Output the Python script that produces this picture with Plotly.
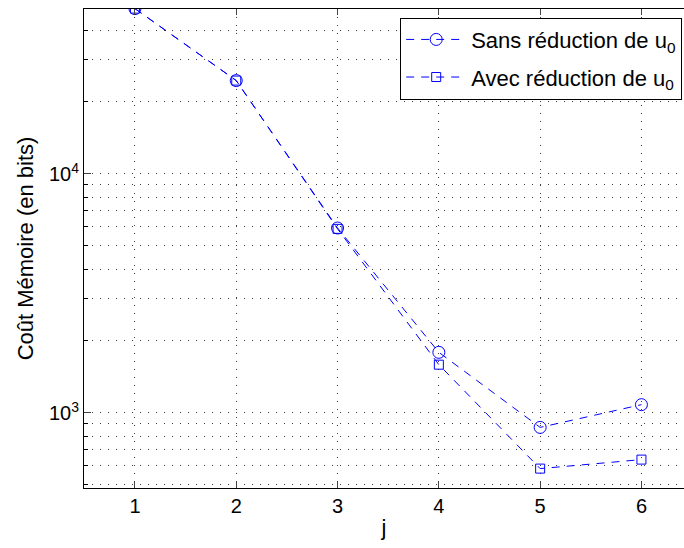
import plotly.graph_objects as go

# Data
j = [1, 2, 3, 4, 5, 6]
sans_reduction = [49152, 24576, 5940, 1793, 870, 1083]
avec_reduction = [49152, 24576, 5890, 1592, 585, 638]

names = ["Sans réduction de u<sub>0</sub>", "Avec réduction de u<sub>0</sub>"]
symbols = ["circle-open", "square-open"]
sizes = [12, 9]

BLUE = "rgb(0,0,255)"
GRID = "rgba(40,40,40,0.9)"
FONT = "Liberation Sans, Arial, Helvetica, sans-serif"

fig = go.Figure()
for k, (ys, name, sym, sz) in enumerate(zip([sans_reduction, avec_reduction], names, symbols, sizes)):
    fig.add_trace(go.Scatter(
        x=j, y=ys, name=name, mode="lines+markers", legendgroup="g%d" % k,
        line=dict(color=BLUE, width=1, dash="8px,7px"),
        marker=dict(symbol=sym, size=sz, color=BLUE, line=dict(color=BLUE, width=1)),
    ))

# minor grid positions (2..9 x decade)
minor_vals = [m * 10 ** e for e in (2, 3, 4) for m in range(2, 10)]

fig.update_xaxes(
    range=[0.497, 6.42], tickvals=j, ticks="inside", ticklen=6,
    showline=True, linecolor="black", linewidth=1, mirror="ticks",
    showgrid=True, gridcolor=GRID, griddash="1px,7px", gridwidth=1,
    zeroline=False,
    title=dict(text="j", standoff=3, font=dict(family=FONT, size=22, color="black")),
    tickfont=dict(size=20, color="black"),
)
fig.update_yaxes(
    type="log", range=[2.686, 4.690],
    tickvals=[1000, 10000], ticktext=["10<sup>3</sup>", "10<sup>4</sup>"],
    ticks="inside", ticklen=7,
    showline=True, linecolor="black", linewidth=1, mirror=False,
    showgrid=True, gridcolor=GRID, griddash="1px,7px", gridwidth=1,
    minor=dict(tickmode="array", tickvals=minor_vals, ticks="inside", ticklen=4,
               tickcolor="black", showgrid=True, gridcolor=GRID,
               griddash="1px,7px", gridwidth=1),
    zeroline=False,
    title=dict(text="Coût Mémoire (en bits)", standoff=9,
               font=dict(family=FONT, size=22, color="black")),
    tickfont=dict(size=20, color="black"),
)

fig.update_layout(
    width=684, height=548,
    margin=dict(l=84, r=0, t=9, b=60, autoexpand=False),
    paper_bgcolor="white", plot_bgcolor="white",
    font=dict(family=FONT, size=20, color="black"),
    showlegend=True,
    legend=dict(
        x=0.997, y=0.982, xanchor="right", yanchor="top",
        bgcolor="white", bordercolor="black", borderwidth=1,
        font=dict(size=22, color="black"), itemwidth=60,
        tracegroupgap=6,
    ),
)

# the page body has an 8px default margin; drop it so the figure sits at 0,0
fig.write_html("out.html", config={"displayModeBar": False},
               post_script="document.body.style.margin='0';")
